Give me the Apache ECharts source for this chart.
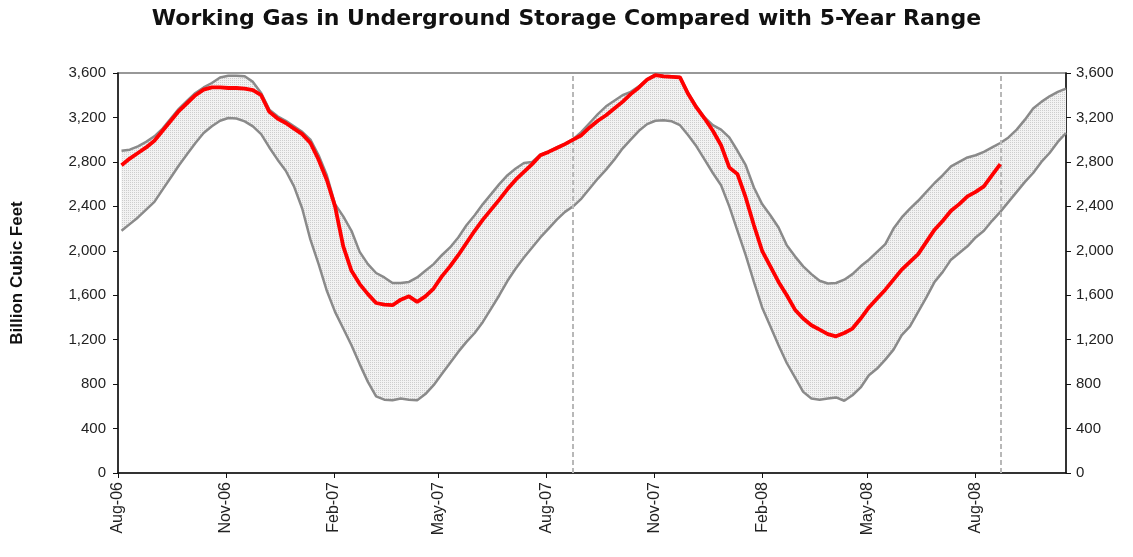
<!DOCTYPE html>
<html>
<head>
<meta charset="utf-8">
<script src="https://cdn.jsdelivr.net/npm/echarts@6/dist/echarts.min.js"></script>
<style>
  html, body { margin: 0; padding: 0; background: #fff; }
  #chart { width: 1133px; height: 557px; }
</style>
</head>
<body>
<div id="chart"></div>
<script>
// weekly storage report dates, first week ending Fri Aug 4 2006
const firstWeek = [2006, 7, 4];
const weekCount = 116;

// 5-year range, upper edge (Bcf)
const rangeMax = [
  2900, 2910, 2940, 2980, 3030, 3100, 3190, 3280, 3350, 3420,
  3470, 3510, 3560, 3575, 3575, 3570, 3520, 3420, 3270, 3210,
  3170, 3120, 3070, 3000, 2860, 2680, 2420, 2310, 2180, 1990,
  1880, 1800, 1760, 1710, 1710, 1720, 1760, 1820, 1880, 1960,
  2030, 2120, 2230, 2320, 2420, 2510, 2600, 2680, 2740, 2790,
  2800, 2865, 2895, 2930, 2965, 3005, 3070, 3150, 3230, 3300,
  3350, 3400, 3430, 3480, 3545, 3585, 3575, 3570, 3565, 3420,
  3300, 3200, 3130, 3090, 3020, 2900, 2770, 2570, 2420, 2320,
  2210, 2050, 1950, 1860, 1790, 1730, 1705, 1710, 1740, 1790,
  1860, 1920, 1990, 2060, 2200, 2300, 2380, 2450, 2530, 2610,
  2680, 2760, 2800, 2840, 2860, 2890, 2930, 2970, 3020, 3090,
  3180, 3280, 3340, 3390, 3430, 3460
];

// 5-year range, lower edge (Bcf)
const rangeMin = [
  2180, 2240, 2300, 2370, 2440, 2550, 2660, 2770, 2870, 2970,
  3060, 3120, 3170, 3195, 3190, 3165, 3120, 3050, 2930, 2820,
  2720, 2580, 2380, 2100, 1880, 1640, 1450, 1300, 1150, 980,
  820, 690, 660, 655, 670, 660, 655, 710, 790, 890,
  990, 1090, 1180, 1260, 1360, 1480, 1600, 1730, 1840, 1940,
  2030, 2120, 2200, 2280, 2350, 2400, 2470, 2560, 2650, 2730,
  2820, 2920, 3000, 3080, 3140, 3170, 3175, 3165, 3130, 3040,
  2940, 2820, 2700, 2590, 2400, 2180, 1960, 1720, 1490, 1320,
  1150, 990, 860, 730, 670, 660, 670, 680, 650, 700,
  770, 880, 940, 1020, 1110, 1240, 1320, 1450, 1580, 1720,
  1810, 1920, 1980, 2040, 2120, 2180, 2270, 2350, 2440, 2530,
  2620, 2700, 2800, 2880, 2980, 3060
];

// working gas in storage, Aug 2006 - Aug 22 2008 (Bcf)
const storage = [
  2770, 2830, 2880, 2930, 2990, 3080, 3170, 3260, 3330, 3400,
  3450, 3470, 3470, 3465, 3465, 3460, 3445, 3400, 3250, 3190,
  3150, 3100, 3050, 2970, 2820, 2637, 2400, 2040, 1820, 1700,
  1610, 1530, 1515, 1510, 1560, 1590, 1540, 1590, 1660, 1770,
  1860, 1960, 2070, 2180, 2280, 2370, 2460, 2555, 2640, 2710,
  2780, 2860, 2890, 2925, 2960, 3000, 3040, 3110, 3170, 3220,
  3280, 3340, 3410, 3470, 3540, 3580, 3570, 3565, 3560, 3410,
  3290, 3190, 3080, 2950, 2750, 2690, 2480, 2230, 2000, 1860,
  1720, 1600, 1470, 1390, 1330, 1290, 1250, 1230, 1260, 1300,
  1390, 1490, 1570, 1650, 1740, 1830, 1900, 1970, 2080, 2190,
  2270, 2360, 2420, 2490, 2530, 2580, 2680, 2780
];

const monthTicks = [
  [2006, 7], [2006, 10], [2007, 1], [2007, 4], [2007, 7],
  [2007, 10], [2008, 1], [2008, 4], [2008, 7]
];
const markerDates = [[2007, 7, 24], [2008, 7, 22]];

const monthNames = ["Jan", "Feb", "Mar", "Apr", "May", "Jun", "Jul", "Aug", "Sep", "Oct", "Nov", "Dec"];

const weeks = [];
for (let i = 0; i < weekCount; i++) {
  weeks.push(new Date(firstWeek[0], firstWeek[1], firstWeek[2] + 7 * i).getTime());
}
const tickTimes = monthTicks.map((m) => new Date(m[0], m[1], 1).getTime());
const markerTimes = markerDates.map((d) => new Date(d[0], d[1], d[2]).getTime());

const pairs = (arr) => arr.map((v, i) => [weeks[i], v]);
const fmt = (v) => String(v).replace(/\B(?=(\d{3})+(?!\d))/g, ",");

// small dotted tile for the shaded 5-year range
const dots = document.createElement("canvas");
dots.width = 2;
dots.height = 2;
const dctx = dots.getContext("2d");
dctx.fillStyle = "#f2f2f2";
dctx.fillRect(0, 0, 2, 2);
dctx.fillStyle = "#cdcdcd";
dctx.fillRect(0, 0, 1, 1);

const yAxisBase = {
  type: "value",
  min: 0,
  max: 3600,
  interval: 400,
  axisLine: { show: true, lineStyle: { color: "#111", width: 1.5 } },
  axisTick: { show: true, length: 5, lineStyle: { color: "#111" } },
  splitLine: { show: false },
  axisLabel: {
    color: "#222",
    fontFamily: "Liberation Sans",
    fontSize: 15,
    margin: 12,
    formatter: (v) => fmt(v),
  },
};

let chart = echarts.init(document.getElementById("chart"));
let options = {
  backgroundColor: "#fff",
  animation: false,
  title: {
    text: "Working Gas in Underground Storage Compared with 5-Year Range",
    left: "center",
    top: 3,
    textStyle: {
      fontFamily: "DejaVu Sans",
      fontWeight: "bold",
      fontSize: 22,
      color: "#111",
    },
  },
  grid: {
    left: 118,
    right: 67,
    top: 73,
    bottom: 84,
    show: true,
    borderColor: "#777",
    borderWidth: 1.5,
    backgroundColor: "transparent",
  },
  xAxis: {
    // dates as timestamps on a value axis so the month ticks can be placed exactly
    type: "value",
    min: new Date(2006, 7, 1).getTime(),
    max: new Date(2008, 9, 17).getTime(),
    axisLine: { show: true, lineStyle: { color: "#111", width: 1.5 } },
    axisTick: {
      show: true,
      length: 5,
      customValues: tickTimes,
      lineStyle: { color: "#111" },
    },
    splitLine: { show: false },
    axisLabel: {
      customValues: tickTimes,
      rotate: 90,
      color: "#222",
      fontFamily: "Liberation Sans",
      fontSize: 16,
      margin: 9,
      formatter: (v) => {
        const d = new Date(v);
        return monthNames[d.getMonth()] + "-" + String(d.getFullYear()).slice(2);
      },
    },
  },
  yAxis: [
    Object.assign({}, yAxisBase, {
      position: "left",
      name: "Billion Cubic Feet",
      nameLocation: "middle",
      nameGap: 92,
      nameTextStyle: {
        fontFamily: "Liberation Sans",
        fontWeight: "bold",
        fontSize: 17,
        color: "#111",
      },
    }),
    Object.assign({}, yAxisBase, { position: "right", axisLabel: Object.assign({}, yAxisBase.axisLabel, { margin: 10 }) }),
  ],
  series: [
    {
      name: "5-Year Range",
      type: "custom",
      silent: true,
      data: [[weeks[0], rangeMin[0]]],
      renderItem: (params, api) => {
        const top = rangeMax.map((v, i) => api.coord([weeks[i], v]));
        const bottom = rangeMin.map((v, i) => api.coord([weeks[i], v])).reverse();
        return {
          type: "polygon",
          shape: { points: top.concat(bottom) },
          style: { fill: { image: dots, repeat: "repeat" } },
        };
      },
      z: 1,
    },
    {
      name: "5-Year Minimum",
      type: "line",
      data: pairs(rangeMin),
      showSymbol: false,
      lineStyle: { color: "#8a8a8a", width: 2.5 },
      z: 3,
    },
    {
      name: "5-Year Maximum",
      type: "line",
      data: pairs(rangeMax),
      showSymbol: false,
      lineStyle: { color: "#8a8a8a", width: 2.5 },
      z: 3,
      markLine: {
        silent: true,
        symbol: ["none", "none"],
        label: { show: false },
        lineStyle: { color: "#b8b8b8", type: [5, 3], width: 2 },
        data: markerTimes.map((t) => ({ xAxis: t })),
      },
    },
    {
      name: "Working Gas",
      type: "line",
      data: pairs(storage),
      showSymbol: false,
      lineStyle: { color: "#ff0000", width: 3.8 },
      z: 5,
    },
  ],
};
chart.setOption(options, true);
</script>
</body>
</html>
